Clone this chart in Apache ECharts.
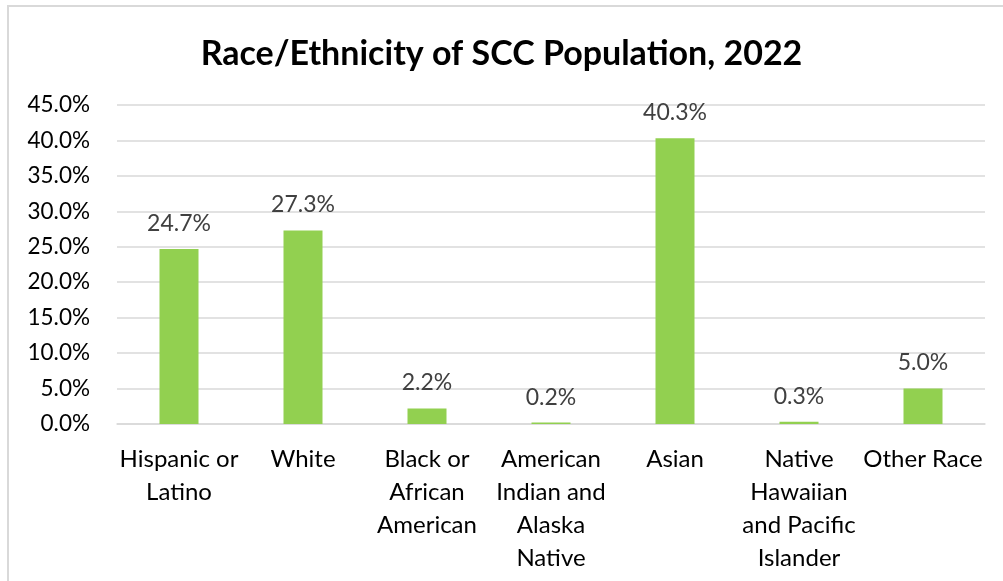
<!DOCTYPE html>
<html>
<head>
<meta charset="utf-8">
<script src="https://cdn.jsdelivr.net/npm/echarts@6/dist/echarts.min.js"></script>
<style>
html,body{margin:0;padding:0;background:#fff;}
#chart{width:1003px;height:581px;}
</style>
</head>
<body>
<div id="chart"></div>
<script>
var titleText = 'Race/Ethnicity of SCC Population, 2022';
var categories = ['Hispanic or\nLatino', 'White', 'Black or\nAfrican\nAmerican', 'American\nIndian and\nAlaska\nNative', 'Asian', 'Native\nHawaiian\nand Pacific\nIslander', 'Other Race'];
var values = [24.7, 27.3, 2.2, 0.2, 40.3, 0.3, 5.0];
var yMin = 0, yMax = 45, yStep = 5;

var chart = echarts.init(document.getElementById('chart'), null, {renderer: 'canvas'});
var FONT = 'Lato, Carlito, "Open Sans", sans-serif';
chart.setOption({
  animation: false,
  backgroundColor: '#ffffff',
  graphic: [
    {type: 'rect', shape: {x: 8, y: 6, width: 1100, height: 700}, style: {fill: 'none', stroke: '#d9d9d9', lineWidth: 2}, silent: true}
  ],
  title: {
    text: titleText,
    left: 'center',
    top: 32,
    textStyle: {fontFamily: FONT, fontSize: 34, fontWeight: 'bold', color: '#000'}
  },
  grid: {left: 117, right: 18, top: 105, bottom: 157, containLabel: false},
  xAxis: {
    type: 'category',
    data: categories,
    axisLine: {lineStyle: {color: '#d9d9d9', width: 1.5}},
    axisTick: {show: false},
    axisLabel: {fontFamily: FONT, fontSize: 24, color: '#000', lineHeight: 33, margin: 19, interval: 0}
  },
  yAxis: {
    type: 'value',
    min: yMin, max: yMax, interval: yStep,
    axisLine: {show: false},
    axisTick: {show: false},
    splitLine: {lineStyle: {color: '#d9d9d9', width: 1.5}},
    axisLabel: {fontFamily: FONT, fontSize: 22.5, color: '#000', margin: 27,
      formatter: function (v) { return v.toFixed(1) + '%'; }}
  },
  series: [{
    type: 'bar',
    data: values,
    barWidth: 39,
    itemStyle: {color: '#92d050'},
    label: {show: true, position: 'top', distance: 14, fontFamily: FONT, fontSize: 23, color: '#404040',
      formatter: function (p) { return p.value.toFixed(1) + '%'; }}
  }]
});
</script>
</body>
</html>
